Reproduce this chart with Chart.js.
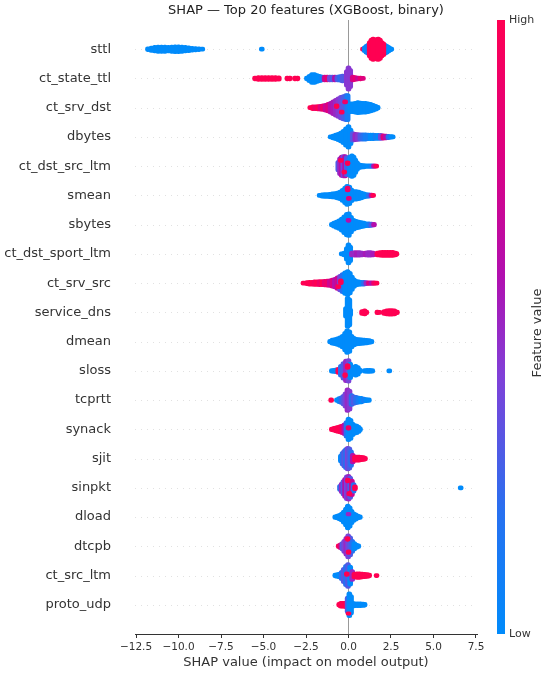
<!DOCTYPE html>
<html><head><meta charset="utf-8">
<script src="https://cdn.jsdelivr.net/npm/chart.js@4.4.1/dist/chart.umd.min.js"></script>
<style>html,body{margin:0;padding:0;background:#fff}</style>
</head><body>
<canvas id="c" width="550" height="674"></canvas>
<script>
// Feature names (top to bottom)
const FEATURES = ['sttl','ct_state_ttl','ct_srv_dst','dbytes','ct_dst_src_ltm','smean','sbytes','ct_dst_sport_ltm','ct_srv_src','service_dns','dmean','sloss','tcprtt','synack','sjit','sinpkt','dload','dtcpb','ct_src_ltm','proto_udp'];

// Swarm columns: [SHAP value, half-height of the swarm (row units), feature value 0=low..1=high, optional vertical offset]
const sttl = [[-11.8,0.08,0],[-11.6,0.11,0],[-11.4,0.13,0],[-11.2,0.14,0],[-11.0,0.14,0],[-10.8,0.14,0],[-10.6,0.13,0],[-10.4,0.14,0],[-10.2,0.15,0],[-10.0,0.15,0],[-9.8,0.14,0],[-9.6,0.13,0],[-9.4,0.12,0],[-9.2,0.1,0],[-9.0,0.09,0],[-8.8,0.08,0],[-8.6,0.07,0],
  [-5.1,0.07,0],
  [0.85,0.07,1],[0.95,0.12,0.1],[1.05,0.17,0],[1.15,0.2,0.1],[2.15,0.2,0.05],[2.25,0.17,0],[2.35,0.13,0],[2.45,0.09,0],[2.52,0.07,0],
  [1.25,0.3,1],[1.35,0.38,1],[1.45,0.42,1],[1.55,0.36,1],[1.65,0.4,1],[1.75,0.42,1],[1.85,0.38,1],[1.95,0.3,1],[2.05,0.25,1]];
const ct_state_ttl = [[-5.5,0.08,1],[-5.3,0.1,1],[-5.1,0.1,1],[-4.9,0.1,1],[-4.7,0.1,1],[-4.5,0.1,1],[-4.3,0.1,1],[-4.1,0.09,1],
  [-3.6,0.08,1],[-3.45,0.08,1],[-3.15,0.08,1],[-3.0,0.08,1],
  [-2.45,0.08,0],[-2.3,0.14,0],[-2.15,0.2,0],[-2.0,0.2,0],[-1.85,0.17,0],[-1.7,0.14,0],[-1.55,0.12,0.1],[-1.4,0.12,0.7],[-1.25,0.12,0.85],[-1.1,0.12,0.4],[-0.95,0.12,0.3],[-0.8,0.12,0.6],[-0.65,0.12,0.3],[-0.5,0.13,0.2],[-0.35,0.15,0.3],
  [-0.1,0.3,0.45],[0.0,0.43,0.45],[0.1,0.35,0.45],[0.25,0.12,0.75],[0.4,0.1,0.85],[0.55,0.08,0.7],[0.7,0.08,0.85],[0.85,0.07,0.8]];
const ct_srv_dst = [[-2.25,0.07,1],[-2.1,0.1,1],[-1.95,0.1,0.9],[-1.8,0.11,1],[-1.65,0.12,0.8],[-1.5,0.13,0.9],[-1.35,0.15,0.7],[-1.2,0.18,0.8],[-1.05,0.22,0.6],[-0.9,0.27,0.55],[-0.75,0.32,0.5],[-0.6,0.37,0.45],[-0.45,0.42,0.4],[-0.3,0.45,0.3],[-0.15,0.48,0.25],[-0.05,0.48,0.1],
  [0.1,0.2,0],[0.25,0.2,0],[0.4,0.22,0],[0.55,0.24,0],[0.7,0.23,0],[0.85,0.22,0],[1.0,0.22,0],[1.15,0.2,0],[1.3,0.18,0],[1.45,0.15,0],[1.6,0.12,0],[1.72,0.08,0],
  [-0.7,0.08,1,0.05],[-0.4,0.07,1,-0.15],[-0.2,0.07,0.9,0.2]];
const dbytes = [[-1.05,0.07,0],[-0.9,0.1,0],[-0.75,0.13,0],[-0.6,0.16,0],[-0.45,0.2,0],[-0.3,0.26,0],[-0.15,0.35,0],[0.0,0.42,0],[0.12,0.3,0],[0.25,0.18,0.3],[0.4,0.16,0.5],[0.55,0.15,0.45],[0.7,0.14,0.3],[0.85,0.14,0.2],[1.0,0.14,0.1],[1.15,0.13,0.1],[1.3,0.13,0],[1.45,0.13,0],[1.6,0.12,0.1],[1.75,0.12,0],[1.9,0.12,0.4],[2.05,0.11,0.8],[2.2,0.1,0.6],[2.35,0.09,0.2],[2.5,0.08,0],[2.6,0.07,0]];
const ct_dst_src_ltm = [[-0.6,0.2,0.3],[-0.5,0.32,0.5],[-0.4,0.38,0.6],[-0.3,0.4,0.4],[-0.2,0.4,0.6],[-0.1,0.36,0.3],[0.0,0.3,0.2],[0.1,0.38,0],[0.2,0.42,0],[0.3,0.38,0],[0.4,0.28,0],[0.5,0.18,0],[0.6,0.12,0],[0.75,0.1,0],[0.9,0.09,0],[1.05,0.08,0],[1.2,0.08,0],[1.35,0.08,0.1],[1.5,0.08,0.6],[1.63,0.07,1],
  [-0.45,0.07,1,0.2],[-0.25,0.07,1,-0.2],[-0.05,0.08,1,0.1]];
const smean = [[-1.7,0.07,0],[-1.55,0.09,0],[-1.4,0.1,0],[-1.25,0.1,0],[-1.1,0.11,0],[-0.95,0.12,0],[-0.8,0.13,0],[-0.65,0.15,0],[-0.5,0.18,0],[-0.35,0.24,0],[-0.2,0.32,0],[-0.08,0.38,0],[0.05,0.35,0],[0.18,0.25,0],[0.3,0.2,0],[0.45,0.2,0],[0.6,0.18,0],[0.75,0.15,0],[0.9,0.12,0],[1.05,0.1,0],[1.2,0.09,0.2],[1.35,0.08,0.6],[1.45,0.07,1],
  [-0.05,0.1,0.9,0.22],[0.02,0.07,0.8,-0.1]];
const sbytes = [[-0.98,0.08,0],[-0.85,0.12,0],[-0.7,0.16,0],[-0.55,0.2,0],[-0.4,0.26,0],[-0.25,0.34,0],[-0.1,0.42,0],[0.02,0.44,0],[0.15,0.32,0],[0.3,0.22,0],[0.45,0.18,0],[0.6,0.16,0],[0.75,0.14,0],[0.9,0.12,0],[1.05,0.1,0],[1.2,0.1,0.1],[1.35,0.09,0.3],[1.5,0.08,0.6],
  [0.0,0.07,0.6,0.15]];
const ct_dst_sport_ltm = [[-0.4,0.07,0],[-0.25,0.1,0],[-0.1,0.25,0],[0.0,0.38,0],[0.1,0.3,0],
  [0.2,0.1,0.5],[0.35,0.11,0.5],[0.5,0.11,0.55],[0.65,0.11,0.5],[0.8,0.1,0.5],[1.0,0.1,0.55],[1.15,0.11,0.5],[1.3,0.11,0.5],[1.45,0.1,0.55],
  [1.7,0.1,1],[1.85,0.11,1],[2.0,0.12,1],[2.15,0.12,1],[2.3,0.12,1],[2.45,0.12,1],[2.6,0.12,1],[2.75,0.1,1],[2.82,0.08,1]];
const ct_srv_src = [[-2.65,0.07,1],[-2.45,0.09,1],[-2.3,0.1,1],[-2.15,0.1,1],[-2.0,0.11,0.95],[-1.85,0.11,1],[-1.7,0.12,0.9],[-1.55,0.12,1],[-1.4,0.13,0.85],[-1.25,0.14,0.9],[-1.1,0.15,0.7],[-0.95,0.17,0.8],[-0.8,0.2,0.6],[-0.65,0.25,0.7],[-0.5,0.3,0.4],[-0.35,0.36,0.2],[-0.2,0.42,0],[-0.05,0.46,0],[0.08,0.4,0],[0.2,0.28,0],[0.32,0.18,0],[0.45,0.13,0],[0.6,0.11,0],[0.75,0.1,0],[0.9,0.1,0.2],[1.05,0.09,0.5],[1.2,0.08,0.8],[1.35,0.08,0.6],[1.5,0.08,0.9],[1.65,0.07,1],
  [-0.45,0.1,1,0.05],[-0.6,0.07,1,-0.12]];
const service_dns = [[-0.15,0.2,0],[-0.05,0.55,0],[0.05,0.5,0],[0.1,0.15,0],
  [0.8,0.1,1],[0.95,0.12,1],[1.05,0.08,1],[1.7,0.08,1],[1.82,0.07,1],[2.1,0.1,1],[2.25,0.12,1],[2.4,0.13,1],[2.55,0.13,1],[2.7,0.12,1],[2.85,0.08,1]];
const dmean = [[-1.08,0.08,0],[-0.95,0.12,0],[-0.8,0.14,0],[-0.65,0.16,0],[-0.5,0.2,0],[-0.35,0.25,0],[-0.2,0.35,0],[-0.08,0.44,0],[0.05,0.4,0],[0.18,0.25,0],[0.32,0.18,0],[0.47,0.15,0],[0.62,0.14,0],[0.77,0.13,0],[0.92,0.12,0],[1.07,0.11,0],[1.22,0.1,0],[1.35,0.08,0]];
const sloss = [[-0.98,0.08,0],[-0.85,0.09,0],[-0.72,0.1,0],[-0.6,0.12,1],[-0.45,0.22,0.2],[-0.3,0.32,0.3],[-0.15,0.4,0.5],[0.0,0.42,0.4],[0.1,0.3,0],[0.2,0.12,0],[0.3,0.18,0],[0.42,0.22,0],[0.55,0.18,0],[0.65,0.1,0],[0.95,0.08,0],[1.1,0.09,0],[1.25,0.09,0],[1.4,0.08,0],[2.4,0.07,0],
  [-0.05,0.1,1,0.15],[-0.2,0.08,1,-0.15]];
const tcprtt = [[-1.02,0.08,1],[-0.68,0.08,0],[-0.55,0.12,0],[-0.42,0.15,0.2],[-0.3,0.2,0.3],[-0.18,0.28,0.4],[-0.06,0.42,0.5],[0.06,0.38,0.45],[0.18,0.22,0.2],[0.3,0.18,0.3],[0.45,0.16,0.2],[0.6,0.14,0.1],[0.75,0.13,0],[0.9,0.1,0.1],[1.05,0.09,0],[1.2,0.08,0]];
const synack = [[-0.98,0.08,1],[-0.85,0.1,1],[-0.72,0.12,1],[-0.6,0.14,1],[-0.48,0.16,1],[-0.36,0.18,0.9],[-0.24,0.22,0.6],[-0.12,0.3,0.2],[0.0,0.42,0],[0.12,0.38,0],[0.24,0.25,0],[0.36,0.2,0],[0.48,0.18,0],[0.6,0.14,0],[0.68,0.08,0],
  [0.0,0.08,0.9,0.05]];
const sjit = [[-0.45,0.15,0],[-0.35,0.25,0.2],[-0.25,0.32,0.3],[-0.15,0.38,0.2],[-0.05,0.42,0.4],[0.05,0.4,0.3],[0.15,0.3,0.2],[0.25,0.18,0.6],[0.38,0.12,1],[0.5,0.12,1],[0.62,0.12,1],[0.75,0.11,1],[0.88,0.1,1],[0.97,0.08,1]];
const sinpkt = [[-0.5,0.12,0.2],[-0.4,0.2,0.5],[-0.3,0.28,0.3],[-0.2,0.36,0.6],[-0.1,0.44,0.4],[0.0,0.46,0.5],[0.1,0.4,0.3],[0.2,0.3,0.7],[0.3,0.18,0.2],[0.38,0.1,1],[6.6,0.07,0],
  [-0.05,0.08,1,0.25],[0.05,0.08,1,-0.2]];
const dload = [[-0.78,0.08,0],[-0.65,0.1,0],[-0.52,0.13,0],[-0.4,0.17,0],[-0.28,0.24,0],[-0.15,0.34,0],[-0.04,0.44,0],[0.07,0.38,0],[0.18,0.26,0],[0.3,0.18,0],[0.42,0.14,0],[0.55,0.1,0],[0.67,0.08,0],
  [0.0,0.06,0.5,0.1]];
const dtcpb = [[-0.58,0.08,1],[-0.47,0.12,0.8],[-0.36,0.16,0.3],[-0.25,0.24,0.4],[-0.13,0.34,0.5],[-0.02,0.43,0.4],[0.1,0.36,0.3],[0.22,0.24,0.2],[0.34,0.16,0],[0.46,0.11,0],[0.58,0.08,0],
  [0.0,0.08,1,-0.2],[-0.05,0.08,1,0.25]];
const ct_src_ltm = [[-0.78,0.08,0],[-0.65,0.1,0],[-0.52,0.12,0],[-0.4,0.18,0.2],[-0.28,0.28,0.3],[-0.15,0.38,0.2],[-0.03,0.44,0.3],[0.1,0.36,0],[0.22,0.2,0.5],[0.35,0.12,1],[0.5,0.13,1],[0.65,0.13,1],[0.8,0.12,1],[0.95,0.11,1],[1.1,0.1,1],[1.22,0.08,1],[1.65,0.07,1],
  [-0.1,0.08,1,0.05]];
const proto_udp = [[-0.55,0.08,1],[-0.45,0.12,1],[-0.35,0.12,1],[-0.25,0.12,1],[-0.15,0.13,1],[-0.05,0.3,0.3],[0.05,0.44,0],[0.15,0.35,0],[0.25,0.12,0],[0.4,0.1,0],[0.55,0.1,0],[0.7,0.1,0],[0.85,0.09,0],[0.95,0.08,0],
  [0.0,0.06,1,-0.3]];

const ROWS = [sttl,ct_state_ttl,ct_srv_dst,dbytes,ct_dst_src_ltm,smean,sbytes,ct_dst_sport_ltm,ct_srv_src,service_dns,dmean,sloss,tcprtt,synack,sjit,sinpkt,dload,dtcpb,ct_src_ltm,proto_udp];

const X_MIN = -12.56, X_MAX = 7.56;

// colormap (low blue -> high red)
const STOPS = [[0,[0,139,251]],[0.2,[40,112,240]],[0.42,[128,64,216]],[0.58,[176,16,176]],[0.78,[220,0,130]],[1,[255,0,82]]];
function col(t){
  t = Math.max(0, Math.min(1, t));
  for (let k=1;k<STOPS.length;k++){
    if (t <= STOPS[k][0]){
      const [t0,c0]=STOPS[k-1],[t1,c1]=STOPS[k];
      const f=(t-t0)/(t1-t0);
      return 'rgb('+c0.map((v,j)=>Math.round(v+(c1[j]-v)*f)).join(',')+')';
    }
  }
  return 'rgb(255,0,82)';
}

const N = FEATURES.length;
const points = [], colors = [];
ROWS.forEach((arr,i)=>{
  const r = N-1-i;
  arr.forEach(c=>{
    const [x,h,fv,dy=0] = c;
    points.push({x:x, y:[r+dy-h, r+dy+h]});
    colors.push(col(fv));
  });
});

const FONT = 'DejaVu Sans';
const deco = {
  id:'deco',
  beforeDatasetsDraw(chart){
    const {ctx, chartArea:a, scales:{x,y}} = chart;
    ctx.save();
    ctx.strokeStyle='#cccccc'; ctx.lineWidth=0.6; ctx.setLineDash([1,5]);
    for (let r=0;r<N;r++){
      const py = Math.round(y.getPixelForValue(r))+0.5;
      ctx.beginPath(); ctx.moveTo(a.left,py); ctx.lineTo(a.right,py); ctx.stroke();
    }
    ctx.setLineDash([]);
    ctx.strokeStyle='#999999'; ctx.lineWidth=1;
    const px = Math.round(x.getPixelForValue(0))+0.5;
    ctx.beginPath(); ctx.moveTo(px,a.top); ctx.lineTo(px,a.bottom); ctx.stroke();
    ctx.restore();
  },
  afterDraw(chart){
    const {ctx, chartArea:a} = chart;
    ctx.save();
    // colorbar
    const cx=497, cw=8, top=a.top, bot=a.bottom;
    const g = ctx.createLinearGradient(0,bot,0,top);
    STOPS.forEach(([t,c])=>g.addColorStop(t,'rgb('+c.join(',')+')'));
    ctx.fillStyle=g; ctx.fillRect(cx,top,cw,bot-top);
    ctx.fillStyle='#333'; ctx.font='11px "'+FONT+'"'; ctx.textAlign='left'; ctx.textBaseline='middle';
    ctx.fillText('High', 509, top);
    ctx.fillText('Low', 509, bot);
    ctx.font='13px "'+FONT+'"';
    ctx.translate(538,(top+bot)/2+6); ctx.rotate(-Math.PI/2); ctx.textAlign='center';
    ctx.fillText('Feature value',0,0);
    ctx.restore();
    ctx.save();
    ctx.fillStyle='#222'; ctx.font='13px "'+FONT+'"'; ctx.textAlign='center'; ctx.textBaseline='middle';
    ctx.fillText('SHAP \u2014 Top 20 features (XGBoost, binary)', (a.left+a.right)/2, 11);
    ctx.restore();
  }
};

new Chart(document.getElementById('c'), {
  type:'bar',
  data:{datasets:[{data:points, backgroundColor:colors, barThickness:5, grouped:false, borderRadius:2.5, borderSkipped:false, borderWidth:0}]},
  options:{
    responsive:false, animation:false, devicePixelRatio:1,
    layout:{padding:{top:20,right:73,left:0,bottom:0}},
    plugins:{legend:{display:false}, tooltip:{enabled:false}, title:{display:false}},
    scales:{
      x:{type:'linear', min:X_MIN, max:X_MAX, offset:false,
        afterFit(s){ s.height = 40; s.paddingLeft = 0; s.paddingRight = 0; },
        grid:{drawOnChartArea:false, offset:false, drawTicks:true, tickLength:4, color:'#333', lineWidth:1},
        border:{display:true, color:'#333', width:1},
        ticks:{stepSize:2.5, includeBounds:false, padding:3, color:'#333', maxRotation:0, autoSkip:false,
          font:{family:FONT, size:10.5},
          callback:(v)=> (v<0?'\u2212':'') + Math.abs(v).toFixed(1)},
        title:{display:true, text:'SHAP value (impact on model output)', color:'#333', font:{family:FONT, size:13}, padding:{top:0,bottom:4}}
      },
      y:{type:'linear', min:-1, max:N,
        afterFit(s){ s.width = 135; s.paddingTop = 0; s.paddingBottom = 0; },
        grid:{display:false, drawTicks:false}, border:{display:false},
        ticks:{stepSize:1, autoSkip:false, padding:24, color:'#333', font:{family:FONT, size:13},
          callback:(v)=> (Number.isInteger(v) && v>=0 && v<N) ? FEATURES[N-1-v] : ''}
      }
    }
  },
  plugins:[deco]
});
</script>
</body></html>
